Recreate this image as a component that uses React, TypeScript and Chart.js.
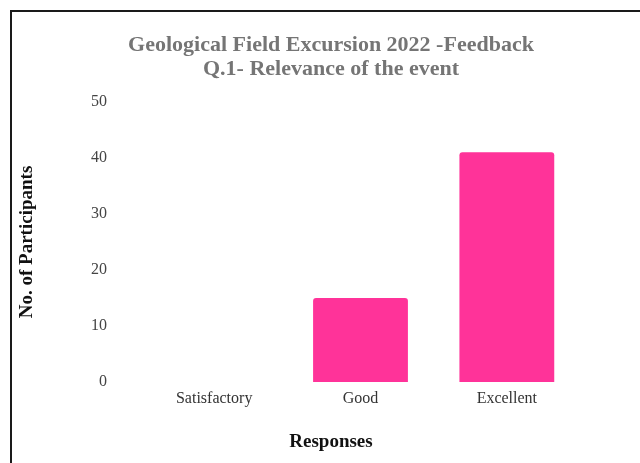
import React, { useEffect, useRef } from "react";
import { Chart, registerables } from "chart.js";

Chart.register(...registerables);

const categories = ["Satisfactory", "Good", "Excellent"];
const participants = [0, 15, 41];
const titleLines = ["Geological Field Excursion 2022 -Feedback", "Q.1- Relevance of the event"];
const xTitle = "Responses";
const yTitle = "No. of Participants";
const yMin = 0;
const yMax = 50;
const yStep = 10;

const serif = "'Times New Roman', 'Liberation Serif', serif";

export default function App() {
  const ref = useRef<HTMLCanvasElement | null>(null);

  useEffect(() => {
    if (!ref.current) return;
    const chart = new Chart(ref.current, {
      type: "bar",
      data: {
        labels: categories,
        datasets: [
          {
            label: "Participants",
            data: participants,
            backgroundColor: "#ff3399",
            borderWidth: 0,
            borderRadius: 3,
            categoryPercentage: 0.72,
            barPercentage: 0.9,
          },
        ],
      },
      options: {
        responsive: false,
        animation: false,
        layout: { padding: 0 },
        plugins: {
          legend: { display: false },
          tooltip: { enabled: false },
          title: {
            display: true,
            text: titleLines,
            color: "#757575",
            font: { family: serif, size: 22, weight: "bold", lineHeight: 1.09 },
            padding: { top: 21, bottom: 21 },
          },
          subtitle: {
            display: true,
            position: "bottom",
            text: xTitle,
            color: "#111",
            font: { family: serif, size: 19, weight: "bold", lineHeight: 1.2 },
            padding: { top: 15.4, bottom: 9.6 },
          },
        },
        scales: {
          x: {
            grid: { display: false, drawTicks: false },
            border: { display: false },
            ticks: {
              color: "#333",
              font: { family: serif, size: 16 },
              padding: 7,
            },
          },
          y: {
            min: yMin,
            max: yMax,
            grid: { display: false, drawTicks: false },
            border: { display: false },
            ticks: {
              stepSize: yStep,
              color: "#444",
              font: { family: serif, size: 16 },
              padding: 34,
            },
            title: {
              display: true,
              text: yTitle,
              color: "#111",
              font: { family: serif, size: 19, weight: "bold", lineHeight: 1.2 },
              padding: { top: 3.6, bottom: 0 },
            },
            afterFit: (scale: any) => {
              scale.width = 129;
            },
          },
          yRight: {
            position: "right",
            display: true,
            grid: { display: false, drawTicks: false },
            border: { display: false },
            ticks: { display: false },
            afterFit: (scale: any) => {
              scale.width = 70;
            },
          },
        },
      },
    });
    return () => chart.destroy();
  }, []);

  return (
    <div
      style={{
        position: "fixed",
        left: 10,
        top: 10,
        width: 680,
        height: 500,
        border: "2px solid #1a1a1a",
        overflow: "hidden",
        background: "#fff",
      }}
    >
      <canvas ref={ref} width={638} height={451} style={{ display: "block", width: 638, height: 451 }} />
    </div>
  );
}
